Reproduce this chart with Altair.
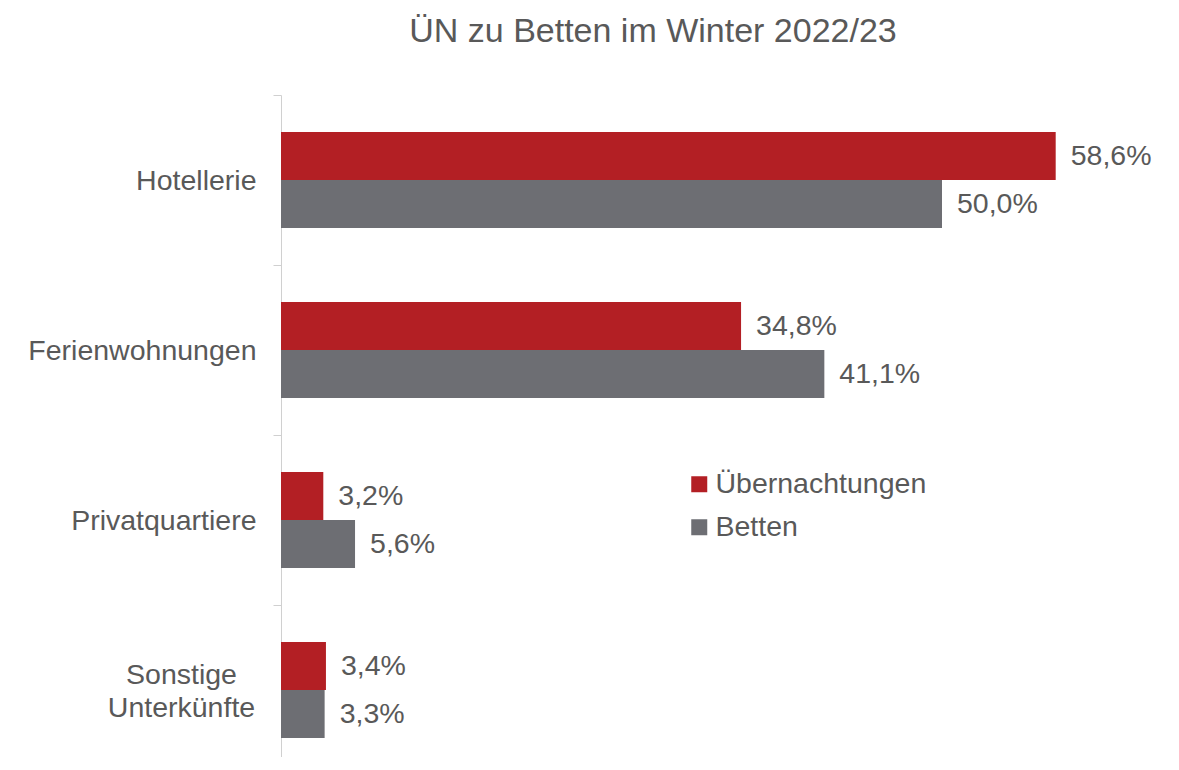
import altair as alt
import pandas as pd

categories = ["Hotellerie", "Ferienwohnungen", "Privatquartiere", "Sonstige Unterkünfte"]
series = ["Übernachtungen", "Betten"]
uebernachtungen = [58.6, 34.8, 3.2, 3.4]
betten = [50.0, 41.1, 5.6, 3.3]

rows = []
for c, u, b in zip(categories, uebernachtungen, betten):
    rows.append({"cat": c, "serie": series[0], "val": u})
    rows.append({"cat": c, "serie": series[1], "val": b})
df = pd.DataFrame(rows)
df["lab"] = df["val"].map(lambda v: f"{v:.1f}".replace(".", ",") + "%")

TXT = "#595959"
FONT = "Liberation Sans"
FS = 28.5
PX_PER = 13.22
W = 744
H = 662
MULTI = "datum.value == 'Sonstige Unterkünfte'"

x_enc = alt.X("val:Q", scale=alt.Scale(domain=[0, W / PX_PER], nice=False, zero=True), axis=None)
y_enc = alt.Y(
    "cat:N",
    sort=categories,
    scale=alt.Scale(paddingInner=0, paddingOuter=0, range=[0, 680]),
    axis=alt.Axis(
        title=None,
        grid=False,
        tickBand="extent",
        tickSize=8,
        tickColor="#d0d0d0",
        domainColor="#d0d0d0",
        labelFontSize=FS,
        labelFont=FONT,
        labelColor=TXT,
        labelLimit=0,
        labelLineHeight=33,
        labelExpr=MULTI + " ? ['Sonstige', 'Unterkünfte'] : datum.label",
        labelAlign={"condition": {"test": MULTI, "value": "center"}, "value": "right"},
        labelPadding={"condition": {"test": MULTI, "value": 92}, "value": 17},
        labelOffset={"condition": {"test": MULTI, "value": -16}, "value": 0},
    ),
)
yoff = alt.YOffset("serie:N", sort=series, scale=alt.Scale(paddingInner=0, paddingOuter=0.7708))

bars = alt.Chart(df).mark_bar().encode(
    x=x_enc,
    y=y_enc,
    yOffset=yoff,
    color=alt.Color(
        "serie:N",
        sort=series,
        scale=alt.Scale(domain=series, range=["#b31f24", "#6d6e73"]),
        legend=alt.Legend(
            title=None,
            orient="none",
            legendX=404,
            legendY=375,
            symbolType="square",
            symbolSize=256,
            symbolStrokeWidth=0,
            labelFontSize=FS,
            labelFont=FONT,
            labelColor=TXT,
            labelLimit=0,
            labelOffset=2,
            rowPadding=14,
        ),
    ),
)

labels = alt.Chart(df).mark_text(
    align="left", baseline="middle", dx=15, fontSize=FS, font=FONT, color=TXT
).encode(x=x_enc, y=y_enc, yOffset=yoff, text="lab:N")

chart = (
    alt.layer(bars, labels)
    .properties(
        width=W,
        height=H,
        title=alt.TitleParams(
            "ÜN zu Betten im Winter 2022/23",
            fontSize=34,
            font=FONT,
            color=TXT,
            fontWeight="normal",
            anchor="middle",
            offset=32,
        ),
        autosize=alt.AutoSizeParams(type="none"),
        padding={"left": 273, "top": 87, "right": 140, "bottom": 0},
    )
    .configure_view(stroke=None)
)

chart.save("out.html", embed_options={"renderer": "svg", "actions": False})
